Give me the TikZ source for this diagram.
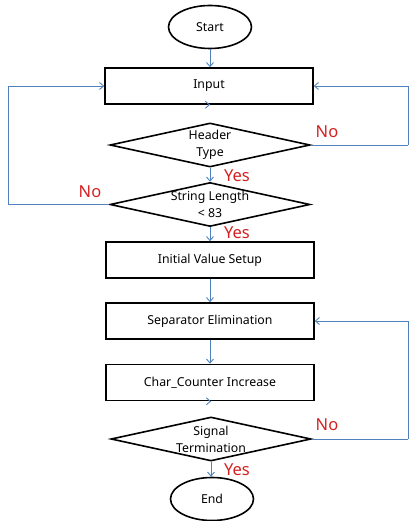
\documentclass[tikz,border=0pt]{standalone}
\usepackage{fontspec}
\setmainfont{Noto Sans}
\usetikzlibrary{shapes.geometric,arrows.meta}
\definecolor{flowblue}{HTML}{4F81BD}
\definecolor{flowred}{HTML}{D42020}
\tikzset{
  boxfont/.style={font=\fontsize{12.3}{17}\selectfont},
  proc/.style={draw=black, line width=1.6pt, rectangle, minimum width=208pt, minimum height=36pt, inner sep=0pt, boxfont},
  decide/.style={draw=black, line width=1.6pt, diamond, minimum width=200pt, minimum height=44pt, inner sep=0pt},
  dtext/.style={align=center, inner sep=0pt, boxfont},
  term/.style={draw=black, line width=1.6pt, ellipse, minimum width=83pt, minimum height=43pt, inner sep=0pt, boxfont},
  flow/.style={draw=flowblue, line width=0.9pt, -{Straight Barb[length=4pt,width=7pt]}},
  loopline/.style={draw=flowblue, line width=0.9pt},
  ans/.style={text=flowred, font=\fontsize{16.5}{18}\selectfont, inner sep=0pt}
}
\begin{document}
\begin{tikzpicture}[x=1pt, y=-1pt]
  \useasboundingbox (0,0) rectangle (409,521);
  % main column
  \node[term]   (start)  at (210,27)    {Start};
  \node[proc]   (input)  at (209,86)    {Input};
  \node[decide] (header) at (210,145)   {};
  \node[dtext]  (headert) at (210,145)  {Header\\Type};
  \node[decide] (strlen) at (210,204.5) {};
  \node[dtext]  (strlent) at (210,204.5) {String Length\\< 83};
  \node[proc]   (init)   at (210,260)   {Initial Value Setup};
  \node[proc]   (sep)    at (210,321)   {Separator Elimination};
  \node[proc]   (char)   at (210,382.5) {Char\_Counter Increase};
  \node[decide] (signal) at (211,439)   {};
  \node[dtext]  (signalt) at (211,439)  {Signal\\Termination};
  \node[term]   (end)    at (212,499)   {End};
  % forward arrows
  \draw[flow] (start.south)  -- (start.south |- input.north);
  \draw[flow] (input.south)  -- (input.south -| header.north);
  \draw[flow] (header.south) -- (strlen.north);
  \draw[flow] (strlen.south) -- (strlen.south |- init.north);
  \draw[flow] (init.south)   -- (sep.north);
  \draw[flow] (sep.south)    -- (char.north);
  \draw[flow] (char.south)   -- (char.south -| signal.north);
  \draw[flow] (signal.south) -- (signal.south |- end.north);
  % feedback loops
  \coordinate (lft) at (8,204.5);
  \coordinate (rgt1) at (408,145);
  \coordinate (rgt2) at (408,439);
  \draw[loopline] (strlen.west) -- (lft);
  \draw[flow] (lft) |- (input.west);
  \draw[loopline] (header.east) -- (rgt1);
  \draw[flow] (rgt1) |- (input.east);
  \draw[loopline] (signal.east) -- (rgt2);
  \draw[flow] (rgt2) |- (sep.east);
  % branch labels
  \node[ans] (no1)  at (327,132) {No};
  \node[ans] (yes1) at (237,176) {Yes};
  \node[ans] (no2)  at (90,192)  {No};
  \node[ans] (yes2) at (237,233) {Yes};
  \node[ans] (no3)  at (327,425) {No};
  \node[ans] (yes3) at (237,470) {Yes};
\end{tikzpicture}
\end{document}
